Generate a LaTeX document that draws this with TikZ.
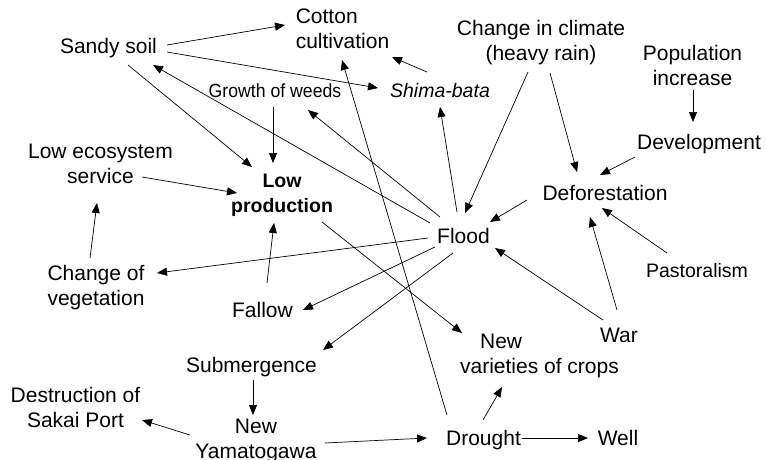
\documentclass[tikz,border=0pt]{standalone}
\usepackage{fontspec}
\setmainfont{Liberation Sans}
\usetikzlibrary{arrows.meta}
\begin{document}
\begin{tikzpicture}[x=1pt,y=-1pt,
  lbl/.style={font=\fontsize{21}{25}\selectfont, inner sep=0pt, align=center, text=black},
  arr/.style={draw=black, line width=0.7pt, -{Triangle[length=10pt,width=8pt]}}]
\useasboundingbox (0,0) rectangle (766,459);
% nodes
\node[lbl] (sandy)   at (108.5,48)  {\strut Sandy soil};
\node[lbl,align=left] (cotton) at (342.5,30.5) {\strut Cotton\\\strut cultivation};
\node[lbl] (weeds)   at (275,92)    {\strut\scalebox{0.93}[1]{\fontsize{19}{25}\selectfont Growth of weeds}};
\node[lbl] (shima)   at (440,92)    {\strut{\fontsize{19.5}{25}\selectfont\itshape Shima-bata}};
\node[lbl] (climate) at (541,42.5)  {\strut Change in climate\\\strut (heavy rain)};
\node[lbl] (pop)     at (692.5,67.5){\strut Population\\\strut increase};
\node[lbl] (dev)     at (699,144)   {\strut Development};
\node[lbl] (defor)   at (605,195)   {\strut Deforestation};
\node[lbl] (lowes)   at (100.5,165.5){\strut Low ecosystem\\\strut service};
\node[lbl,font=\fontsize{19.5}{25}\selectfont\bfseries] (lowprod) at (282,194.5) {\strut Low\\\strut production};
\node[lbl] (flood)   at (463.5,238) {\strut Flood};
\node[lbl] (past)    at (697,272)   {\strut{\fontsize{19.5}{25}\selectfont Pastoralism}};
\node[lbl] (vege)    at (96,287.5)  {\strut Change of\\\strut vegetation};
\node[lbl] (fallow)  at (262.5,312) {\strut Fallow};
\node[lbl] (war)     at (619,337)   {\strut War};
\node[lbl,align=left] (newvar) at (539.5,355.5) {\strut\hspace*{20pt}New\\\strut varieties of crops};
\node[lbl] (subm)    at (251.5,367) {\strut Submergence};
\node[lbl] (sakai)   at (75.5,409.5){\strut Destruction of\\\strut Sakai Port};
\node[lbl] (yamato)  at (256,440.5) {\strut New\\\strut Yamatogawa};
\node[lbl] (drought) at (483.5,440) {\strut Drought};
\node[lbl] (well)    at (618,440)   {\strut Well};
% connectors
\draw[arr] ([shift={(58.5,-3)}]sandy.center) -- ([shift={(-57.5,-5.5)}]cotton.center);
\draw[arr] ([shift={(58.5,4)}]sandy.center) -- ([shift={(-62,-4)}]shima.center);
\draw[arr] ([shift={(19.5,17)}]sandy.center) -- ([shift={(-30,-27.5)}]lowprod.center);
\draw[arr] ([shift={(-33.5,-15)}]flood.center) -- ([shift={(44.5,17)}]sandy.center);
\draw[arr] ([shift={(-23.5,-21)}]flood.center) -- ([shift={(33,18)}]weeds.center);
\draw[arr] ([shift={(-2,15)}]weeds.center) -- ([shift={(-9,-31.5)}]lowprod.center);
\draw[arr] ([shift={(41.5,11.5)}]lowes.center) -- ([shift={(-45,-1.5)}]lowprod.center);
\draw[arr] ([shift={(-6,-29.5)}]vege.center) -- ([shift={(-3.5,37.5)}]lowes.center);
\draw[arr] ([shift={(4.5,-29)}]fallow.center) -- ([shift={(-8,28.5)}]lowprod.center);
\draw[arr] ([shift={(-35.5,0)}]flood.center) -- ([shift={(61,-14.5)}]vege.center);
\draw[arr] ([shift={(-28.5,9)}]flood.center) -- ([shift={(40.5,-2)}]fallow.center);
\draw[arr] ([shift={(-10.5,15)}]flood.center) -- ([shift={(71.5,-17)}]subm.center);
\draw[arr] ([shift={(40,27.5)}]lowprod.center) -- ([shift={(-77.5,-22.5)}]newvar.center);
\draw[arr] ([shift={(-36.5,-25)}]drought.center) -- ([shift={(-0.5,29.5)}]cotton.center);
\draw[arr] ([shift={(-6.5,-26)}]flood.center) -- ([shift={(0,15)}]shima.center);
\draw[arr] ([shift={(-13,-20)}]shima.center) -- ([shift={(49.5,26.5)}]cotton.center);
\draw[arr] ([shift={(-13,29.5)}]climate.center) -- ([shift={(1.5,-25)}]flood.center);
\draw[arr] ([shift={(9,30.5)}]climate.center) -- ([shift={(-28,-23)}]defor.center);
\draw[arr] ([shift={(0.5,22.5)}]pop.center) -- ([shift={(-6,-22)}]dev.center);
\draw[arr] ([shift={(-64,13)}]dev.center) -- ([shift={(-5,-20)}]defor.center);
\draw[arr] ([shift={(-78,5)}]defor.center) -- ([shift={(26.5,-16)}]flood.center);
\draw[arr] ([shift={(-30,-19)}]past.center) -- ([shift={(-3,13)}]defor.center);
\draw[arr] ([shift={(-2,-27)}]war.center) -- ([shift={(-15,22)}]defor.center);
\draw[arr] ([shift={(-16,-17)}]war.center) -- ([shift={(31.5,10)}]flood.center);
\draw[arr] ([shift={(-66,-5.5)}]yamato.center) -- ([shift={(66.5,10.5)}]sakai.center);
\draw[arr] ([shift={(1.5,13)}]subm.center) -- ([shift={(-3,-25.5)}]yamato.center);
\draw[arr] ([shift={(69,2.5)}]yamato.center) -- ([shift={(-56.5,-2)}]drought.center);
\draw[arr] ([shift={(38.5,-2)}]drought.center) -- ([shift={(-30,-2)}]well.center);
\draw[arr] ([shift={(-0.5,-20)}]drought.center) -- ([shift={(-37.5,31.5)}]newvar.center);
\end{tikzpicture}
\end{document}
